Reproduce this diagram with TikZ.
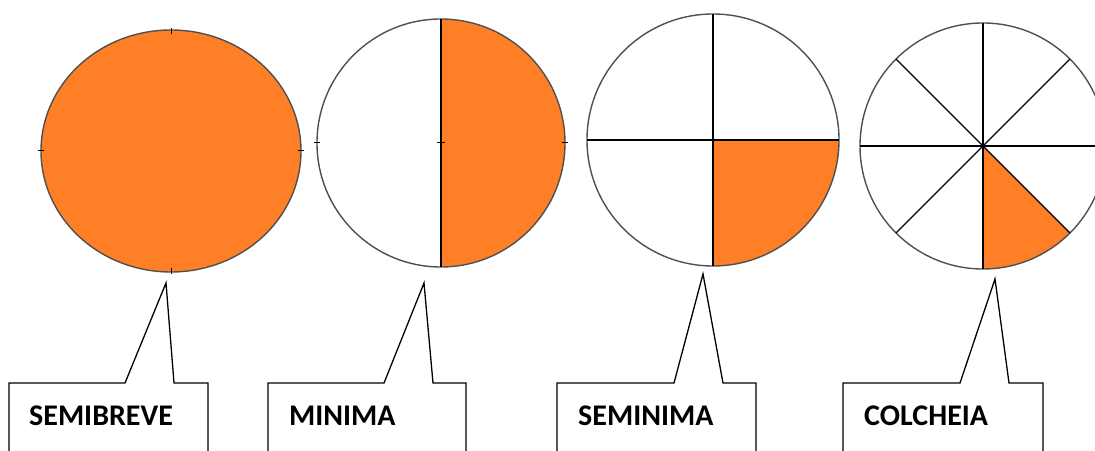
\documentclass[tikz,border=0pt]{standalone}
\usepackage{fontspec}
\setmainfont{Carlito}
\definecolor{noteorange}{RGB}{255,127,39}
\definecolor{rimgray}{RGB}{80,80,80}
\tikzset{
  rim/.style={draw=rimgray, line width=1.4pt},
  divider/.style={draw=black, line width=1.2pt},
  tick/.style={draw=black, line width=1pt},
  wedge/.style={fill=noteorange},
  callout/.style={draw=black, line width=1.3pt, fill=white, line join=miter},
  label/.style={font=\bfseries\fontsize{30}{36}\selectfont, inner sep=0pt, anchor=base west}
}
\begin{document}
\begin{tikzpicture}[x=1pt,y=1pt]
\useasboundingbox (0,0) rectangle (1095,450);
\clip (0,0) rectangle (1095,450);
% --- semibreve
\fill[noteorange] (171,299) ellipse [x radius=130, y radius=121];
\draw[rim] (171,299) ellipse [x radius=130, y radius=121];
\draw[tick] (171,416) -- (171,422) (171,176) -- (171,182) (38,299) -- (44,299) (298,299) -- (304,299);
% --- minima
\coordinate (m) at (441,307);
\fill[wedge] (441,431) arc[start angle=90, end angle=-90, radius=124] -- cycle;
\draw[rim] (m) circle[radius=124];
\draw[divider] (441,431) -- (441,183);
\draw[tick] (314,307) -- (320,307) (562,307) -- (568,307) (437,307) -- (445,307);
% --- seminima
\coordinate (s) at (713,310);
\fill[wedge] (s) -- ++(126,0) arc[start angle=0, end angle=-90, radius=126] -- cycle;
\draw[rim] (s) circle[radius=126];
\draw[divider] (587,310) -- (839,310) (713,436) -- (713,184);
% --- colcheia
\coordinate (c) at (983,304);
\fill[wedge] (c) -- ++(-90:123) arc[start angle=-90, end angle=-45, radius=123] -- cycle;
\draw[rim] (c) circle[radius=123];
\foreach \a in {0,45,...,315} \draw[divider] (c) -- ++(\a:123);
% --- callouts
\draw[callout] (9,-10) -- (9,67) -- (125,67) -- (166,167) -- (174,67) -- (208,67) -- (208,-10);
\node[label] (t1) at (29,25) {SEMIBREVE};
\draw[callout] (268,-10) -- (268,67) -- (384,67) -- (424,167) -- (433,67) -- (466,67) -- (466,-10);
\node[label] (t2) at (289,25) {MINIMA};
\draw[callout] (557,-10) -- (557,67) -- (674,67) -- (703,176) -- (723,67) -- (756,67) -- (756,-10);
\node[label] (t3) at (578,25) {SEMINIMA};
\draw[callout] (843,-10) -- (843,67) -- (960,67) -- (995,171) -- (1009,67) -- (1043,67) -- (1043,-10);
\node[label] (t4) at (864,25) {COLCHEIA};
\end{tikzpicture}
\end{document}
